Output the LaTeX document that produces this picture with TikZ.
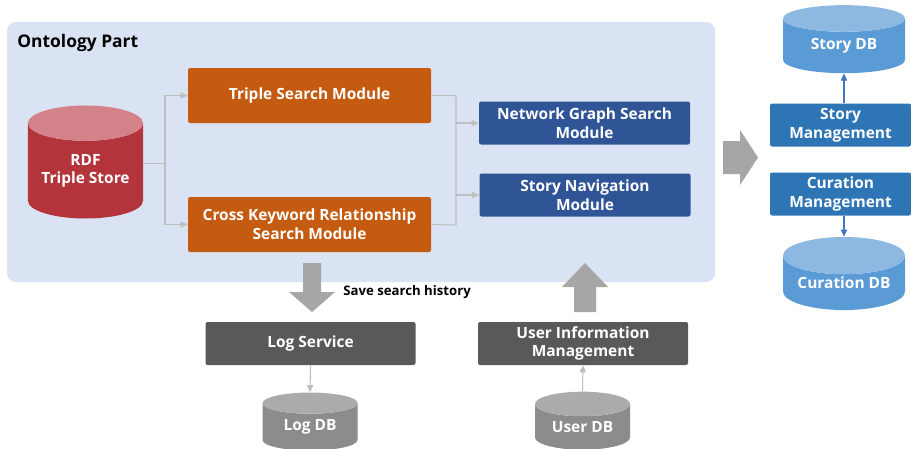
\documentclass[tikz,border=0pt]{standalone}
\usepackage{fontspec}
\setmainfont{Open Sans}
\usetikzlibrary{shapes.geometric,arrows.meta}

\definecolor{panelbg}{HTML}{DAE3F3}
\definecolor{orangemod}{HTML}{C55A11}
\definecolor{bluemod}{HTML}{2F5597}
\definecolor{mgmtblue}{HTML}{2E75B6}
\definecolor{greymod}{HTML}{595959}
\definecolor{rdfbody}{HTML}{B4343C}
\definecolor{rdftop}{HTML}{D4828A}
\definecolor{dbbody}{HTML}{5B9BD5}
\definecolor{dbtop}{HTML}{8DB8E2}
\definecolor{greybody}{HTML}{8C8C8C}
\definecolor{greytop}{HTML}{ABABAB}
\definecolor{linkgrey}{HTML}{BFBFBF}
\definecolor{bigarrow}{HTML}{A6A6A6}
\definecolor{linkblue}{HTML}{4472C4}

\begin{document}
\begin{tikzpicture}
  [x=0.2mm, y=-0.2mm,
    every node/.style={font=\bfseries\fontsize{8.8}{10.6}\selectfont, text=white, align=center, inner sep=0pt},
    box/.style={rectangle, rounded corners=1.2pt},
    orangebox/.style={box, fill=orangemod, minimum width=48.6mm, minimum height=11mm},
    bluebox/.style={box, fill=bluemod, minimum width=42.2mm, minimum height=8.6mm},
    mgmtbox/.style={box, fill=mgmtblue, minimum width=28.2mm, minimum height=8.6mm},
    greybox/.style={box, fill=greymod, minimum width=42mm, minimum height=8.6mm},
    db/.style={cylinder, shape border rotate=90, aspect=0.4, cylinder uses custom fill},
    rdfdb/.style={db, cylinder body fill=rdfbody, cylinder end fill=rdftop, minimum width=23mm, minimum height=22.6mm},
    bluedb/.style={db, cylinder body fill=dbbody, cylinder end fill=dbtop, minimum width=24.4mm},
    greydb/.style={db, cylinder body fill=greybody, cylinder end fill=greytop, minimum width=19mm, minimum height=11.6mm},
    link/.style={draw=linkgrey, line width=0.6pt, -{Triangle[length=4pt,width=3.6pt]}},
    bluelink/.style={draw=linkblue, line width=0.6pt, -{Triangle[length=4pt,width=3.6pt]}},
    bigarrow/.style={fill=bigarrow}
  ]

\useasboundingbox (0,0) rectangle (911,448);
\fill[panelbg, rounded corners=5pt] (7,22) rectangle (715,282);
\node[anchor=west, text=black, font=\bfseries\fontsize{9.9}{12}\selectfont] (title) at (17,43) {Ontology Part};

\node[rdfdb] (rdf) at (85.5,171) {RDF\\Triple Store};
\node[orangebox] (triple) at (309.5,95.5) {Triple Search Module};
\node[orangebox] (cross) at (309.5,224.5) {Cross Keyword Relationship\\Search Module};
\node[bluebox] (netgraph) at (584.5,123) {Network Graph Search\\Module};
\node[bluebox] (storynav) at (585,195) {Story Navigation\\Module};

\node[mgmtbox] (storymgmt) at (840.5,125) {Story\\Management};
\node[mgmtbox] (curmgmt) at (840.5,194) {Curation\\Management};
\node[bluedb, minimum height=13.6mm] (storydb) at (844,46) {Story DB};
\node[bluedb, minimum height=14.6mm] (curdb) at (844,283) {Curation DB};

\node[greybox] (logsvc) at (310.5,343.5) {Log Service};
\node[greybox] (userinfo) at (583,343.5) {User Information\\Management};
\node[greydb] (logdb) at (310,427) {Log DB};
\node[greydb] (userdb) at (582.5,427) {User DB};

% connectors inside the ontology part
\coordinate (split) at (165,163.5);
\draw[link, -] (rdf.east |- split) -- (split);
\draw[link] (split) |- (triple.west);
\draw[link] (split) |- (cross.west);
\draw[link, -] (triple.east) -| (456,225) -- (cross.east);
\draw[link] (456,123) -- (netgraph.west);
\draw[link] (456,195) -- (storynav.west);

\draw[bluelink] (storydb.south |- storymgmt.north) -- (storydb.south);
\draw[bluelink] (curdb.north |- curmgmt.south) -- (curdb.north);
\draw[link] (logsvc.south) -- (logdb.north);
\draw[link] (userdb.north) -- (userinfo.south);

% big arrows
\fill[bigarrow] (723,141) -- (740,141) -- (740,130) -- (758,157.5) -- (740,185) -- (740,174) -- (723,174) -- cycle;
\fill[bigarrow] (303,263) -- (321,263) -- (321,292) -- (335,292) -- (312,312) -- (289,292) -- (303,292) -- cycle;
\fill[bigarrow] (574,312) -- (596,312) -- (596,287) -- (608,287) -- (585,263) -- (562,287) -- (574,287) -- cycle;
\node[anchor=west, text=black, font=\bfseries\fontsize{7.5}{9}\selectfont] (history) at (343,292) {Save search history};
\end{tikzpicture}
\end{document}
